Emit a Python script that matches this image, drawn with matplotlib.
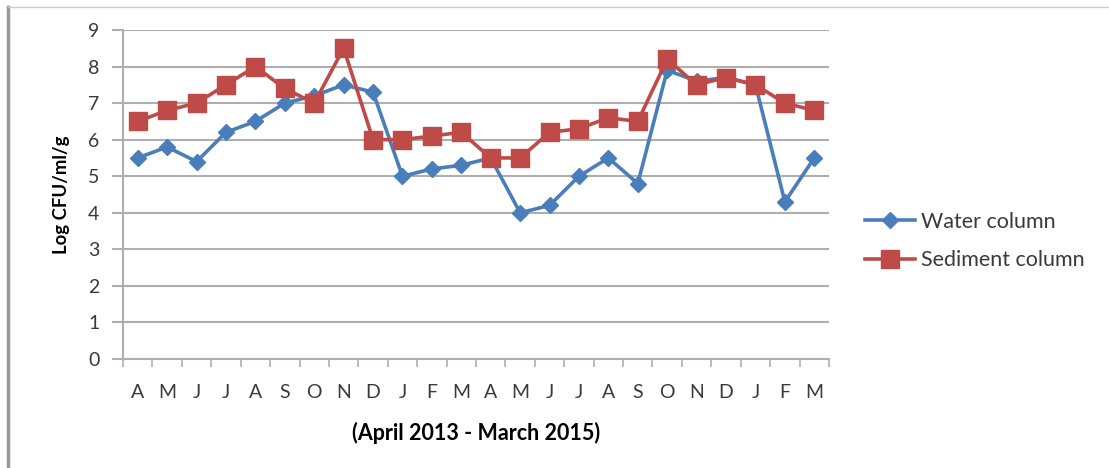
import numpy as np
import matplotlib.pyplot as plt
from matplotlib.lines import Line2D

plt.rcParams['font.family'] = ['Lato', 'DejaVu Sans']

MONTHS = ["A", "M", "J", "J", "A", "S", "O", "N", "D", "J", "F", "M",
          "A", "M", "J", "J", "A", "S", "O", "N", "D", "J", "F", "M"]
water = [5.5, 5.8, 5.4, 6.2, 6.5, 7.0, 7.2, 7.5, 7.3, 5.0, 5.2, 5.3,
         5.5, 4.0, 4.2, 5.0, 5.5, 4.8, 7.9, 7.6, 7.7, 7.5, 4.3, 5.5]
sediment = [6.5, 6.8, 7.0, 7.5, 8.0, 7.4, 7.0, 8.5, 6.0, 6.0, 6.1, 6.2,
            5.5, 5.5, 6.2, 6.3, 6.6, 6.5, 8.2, 7.5, 7.7, 7.5, 7.0, 6.8]

BLUE = "#4A7EBB"
RED = "#BE4B48"
GRID = "#AEAEAE"
TXT = "#3A3A3A"


def main():
    fig = plt.figure(figsize=(11.09, 4.68), dpi=100)
    W, H = 1109, 468
    ax = fig.add_axes([123 / W, 1 - 359 / H, (829 - 123) / W, (359 - 30) / H])

    x = np.arange(len(MONTHS))
    ax.plot(x, water, color=BLUE, lw=2.6, marker="D", ms=8.5, label="Water column", zorder=3)
    ax.plot(x, sediment, color=RED, lw=2.6, marker="s", ms=12.5, label="Sediment column", zorder=4)

    ax.set_xlim(-0.5, len(MONTHS) - 0.5)
    ax.set_ylim(0, 9)
    ax.set_yticks(range(10))
    ax.yaxis.grid(True, color=GRID, lw=1.5)
    ax.set_axisbelow(True)

    # ticks at category boundaries, labels centred
    ax.set_xticks(np.arange(-0.5, len(MONTHS), 1.0))
    ax.set_xticklabels([])
    ax.set_xticks(x, minor=True)
    ax.set_xticklabels(MONTHS, minor=True, fontsize=14, color=TXT)
    ax.tick_params(axis="x", which="minor", length=0, pad=18)
    ax.tick_params(axis="x", which="major", length=6, width=1.2, color=GRID, direction="out")
    ax.tick_params(axis="y", length=8, width=1.5, color=GRID, labelsize=14,
                   labelcolor=TXT, pad=9)

    for s in ["top", "right"]:
        ax.spines[s].set_visible(False)
    for s in ["left", "bottom"]:
        ax.spines[s].set_color(GRID)
        ax.spines[s].set_linewidth(1.5)

    ax.set_ylabel("Log CFU/ml/g", fontsize=13.3, fontweight="bold", labelpad=13)
    ax.set_xlabel("(April 2013 - March 2015)", fontsize=15.5, fontweight="bold", labelpad=15)

    handles = [Line2D([], [], color=BLUE, lw=2.6, marker="D", ms=8.5),
               Line2D([], [], color=RED, lw=2.6, marker="s", ms=12.5)]
    fig.legend(handles, ["Water column", "Sediment column"], loc="center left",
               bbox_to_anchor=(865 / W, 1 - 241 / H), frameon=False, fontsize=15.5,
               borderaxespad=0, borderpad=0, handlelength=2.3, handletextpad=0.3,
               labelspacing=0.85, labelcolor=TXT)

    # outer frame lines
    fig.add_artist(Line2D([8 / W, 8 / W], [0, 1 - 7 / H], color="#999999", lw=2.5,
                          transform=fig.transFigure))
    fig.add_artist(Line2D([8 / W, 1], [1 - 7 / H, 1 - 7 / H], color="#CCCCCC", lw=1,
                          transform=fig.transFigure))

    fig.savefig("out.png", dpi=100)


if __name__ == "__main__":
    main()
